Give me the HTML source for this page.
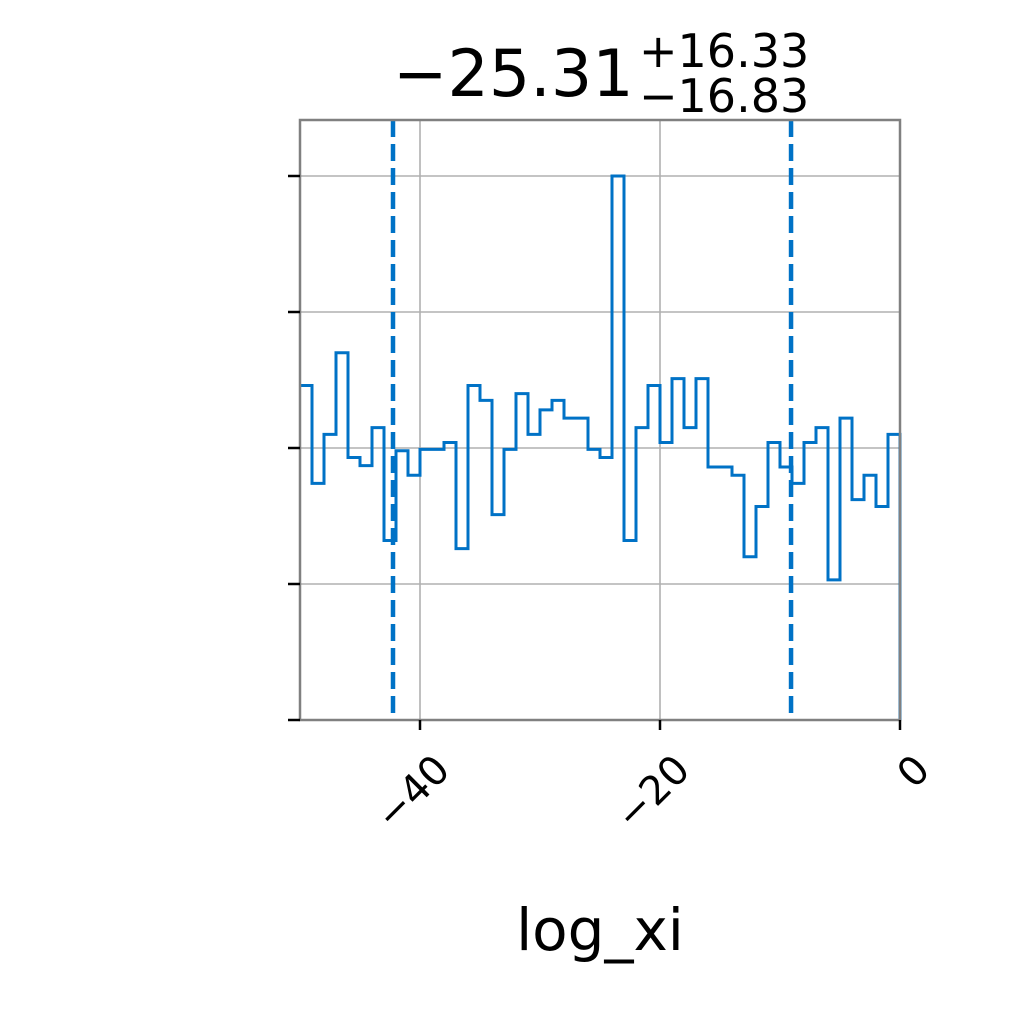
<!DOCTYPE html>
<html><head><meta charset="utf-8"><style>body{margin:0;background:#fff}svg text{font-family:"DejaVu Sans","Liberation Sans",sans-serif}</style></head>
<body>
<svg id="chart" width="1020" height="1020" viewBox="0 0 1020 1020">
<g id="grid"></g>
<g id="marks"></g>
<rect x="300" y="120" width="600" height="600" fill="none" stroke="#808080" stroke-width="2.5"/>
<g id="axes"></g>
<text x="393" y="96" font-size="65">−25.31</text>
<text x="639" y="67" font-size="46">+16.33</text>
<text x="639" y="112" font-size="46">−16.83</text>
<text x="600" y="950" text-anchor="middle" font-size="58">log_xi</text>
</svg>
<script>
const binEdgesStart = -50;
const binWidth = 1;
const counts = [2.46,1.74,2.10,2.70,1.93,1.87,2.15,1.32,1.98,1.80,1.99,1.99,2.04,1.26,2.46,2.35,1.51,1.99,2.40,2.10,2.28,2.35,2.22,2.22,1.99,1.93,4.00,1.32,2.15,2.46,2.04,2.51,2.15,2.51,1.86,1.86,1.80,1.20,1.57,2.04,1.86,1.74,2.04,2.15,1.03,2.22,1.62,1.80,1.57,2.10];
const xTicks = [-40,-20,0];
const xTickLabels = ["−40","−20","0"];
const yTicks = [0,1,2,3,4];
const quantiles = [-42.25,-9.08];
const NS="http://www.w3.org/2000/svg";
const X=v=>300+(v+50)*12;
const Y=v=>720-v*136;
function mk(t,a,p){const e=document.createElementNS(NS,t);for(const k in a)e.setAttribute(k,a[k]);p.appendChild(e);return e;}
const grid=document.getElementById('grid'),marks=document.getElementById('marks'),axes=document.getElementById('axes');
xTicks.forEach((t,i)=>{
 const g=mk('line',{x1:X(t),x2:X(t),y1:120,y2:720,stroke:'#b0b0b0','stroke-width':1.6},grid);
 
 
 const tk=mk('line',{x1:X(t),x2:X(t),y1:720,y2:730,stroke:'#000','stroke-width':2.5},axes);
 
 
 const lb=mk('text',{x:0,y:0,'font-size':40,'text-anchor':'end',transform:`translate(${X(t)+32},${772}) rotate(-45)`},axes);
 lb.textContent=xTickLabels[i];
 
 
});
yTicks.forEach(t=>{
 const g=mk('line',{x1:300,x2:900,y1:Y(t),y2:Y(t),stroke:'#b0b0b0','stroke-width':1.6},grid);
 
 
 const tk=mk('line',{x1:288,x2:300,y1:Y(t),y2:Y(t),stroke:'#000','stroke-width':2.5},axes);
 
 
});
let d=`M${X(binEdgesStart)},${Y(counts[0])}`;
counts.forEach((c,i)=>{const x0=X(binEdgesStart+i*binWidth),x1=X(binEdgesStart+(i+1)*binWidth);d+=` L${x0},${Y(c)} L${x1},${Y(c)}`;});
d+=` L${X(binEdgesStart+counts.length*binWidth)},${Y(0)}`;
const p=mk('path',{d:d,fill:'none',stroke:'#0072c6','stroke-width':3},marks);


quantiles.forEach(q=>{
 const l=mk('line',{x1:X(q),x2:X(q),y1:120,y2:720,stroke:'#0072c6','stroke-width':4.5,'stroke-dasharray':'17 7'},marks);
 
 
});
</script>
</body></html>
